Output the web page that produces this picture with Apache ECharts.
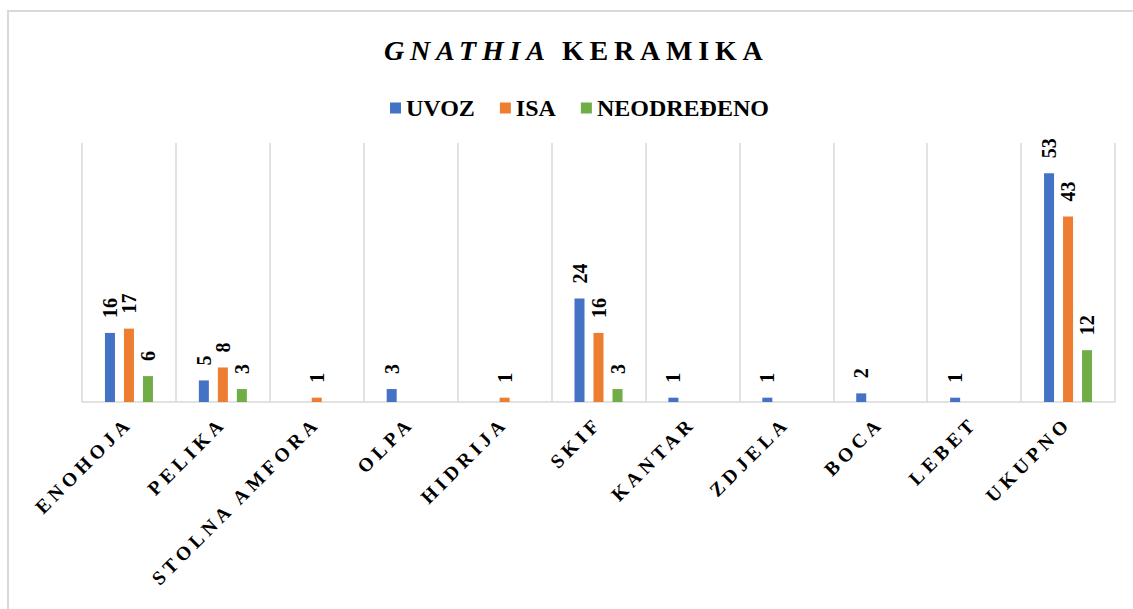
<!DOCTYPE html>
<html>
<head>
<meta charset="utf-8">
<title>Gnathia keramika</title>
<style>
  html, body { margin: 0; padding: 0; background: #ffffff; }
  #chart { width: 1133px; height: 609px; }
  /* expanded character spacing for the title and the category names */
  #chart text[style*="28px"] { letter-spacing: 5.8px; }
  #chart text[style*="19.5px"] { letter-spacing: 4.5px; }
</style>
<script src="https://cdn.jsdelivr.net/npm/echarts@6/dist/echarts.min.js"></script>
</head>
<body>
<div id="chart"></div>
<script>
// Vessel shapes and counts per origin
const categories = ['ENOHOJA', 'PELIKA', 'STOLNA AMFORA', 'OLPA', 'HIDRIJA', 'SKIF',
                    'KANTAR', 'ZDJELA', 'BOCA', 'LEBET', 'UKUPNO'];
const uvoz       = [16, 5, 0, 3, 0, 24, 1, 1, 2, 1, 53];
const isa        = [17, 8, 1, 0, 1, 16, 0, 0, 0, 0, 43];
const neodredeno = [ 6, 3, 0, 0, 0,  3, 0, 0, 0, 0, 12];
const seriesNames = ['UVOZ', 'ISA', 'NEODREĐENO'];
const titleParts = ['GNATHIA', 'KERAMIKA'];

const FONT = 'Liberation Serif';
const COLORS = ['#4472C4', '#ED7D31', '#70AD47'];
const GRID_COLOR = '#d9d9d9';

const chart = echarts.init(document.getElementById('chart'), null, { renderer: 'svg' });

function barSeries(name, values, color) {
  return {
    name: name,
    type: 'bar',
    data: values,
    barWidth: 10,
    barGap: '90%',
    itemStyle: { color: color },
    label: {
      show: true,
      position: 'top',
      distance: 15,
      rotate: 90,
      align: 'left',
      verticalAlign: 'middle',
      color: '#000',
      fontFamily: FONT,
      fontWeight: 'bold',
      fontSize: 20,
      // empty categories carry no label
      formatter: p => (p.value ? String(p.value) : '')
    }
  };
}

chart.setOption({
  animation: false,
  backgroundColor: '#ffffff',
  color: COLORS,
  graphic: [{
    type: 'rect',
    z: -10,
    silent: true,
    shape: { x: 8, y: 11, width: 1150, height: 620 },
    style: { fill: 'none', stroke: GRID_COLOR, lineWidth: 2 }
  }],
  title: [{
    text: titleParts[0],
    left: 384,
    top: 36,
    padding: 0,
    textStyle: { fontFamily: FONT, fontSize: 28, fontWeight: 'bold', fontStyle: 'italic', color: '#000' }
  }, {
    text: titleParts[1],
    left: 562,
    top: 36,
    padding: 0,
    textStyle: { fontFamily: FONT, fontSize: 28, fontWeight: 'bold', color: '#000' }
  }],
  legend: {
    data: seriesNames,
    left: 390,
    top: 96,
    padding: 0,
    itemWidth: 11,
    itemHeight: 11,
    itemGap: 25,
    icon: 'rect',
    textStyle: { fontFamily: FONT, fontSize: 24, fontWeight: 'bold', color: '#000' }
  },
  grid: { left: 82, right: 18, top: 143, bottom: 207, containLabel: false },
  xAxis: {
    type: 'category',
    data: categories,
    boundaryGap: true,
    axisLine: { show: true, lineStyle: { color: GRID_COLOR, width: 1.5 } },
    axisTick: { show: false },
    splitLine: { show: true, lineStyle: { color: GRID_COLOR, width: 1.5 } },
    axisLabel: {
      interval: 0,
      rotate: 45,
      margin: 18,
      color: '#000',
      fontFamily: FONT,
      fontWeight: 'bold',
      fontSize: 19.5
    }
  },
  yAxis: {
    type: 'value',
    min: 0,
    max: 60,
    interval: 10,
    show: false,
    splitLine: { show: false }
  },
  series: [
    barSeries(seriesNames[0], uvoz, COLORS[0]),
    barSeries(seriesNames[1], isa, COLORS[1]),
    barSeries(seriesNames[2], neodredeno, COLORS[2])
  ]
});
</script>
</body>
</html>
